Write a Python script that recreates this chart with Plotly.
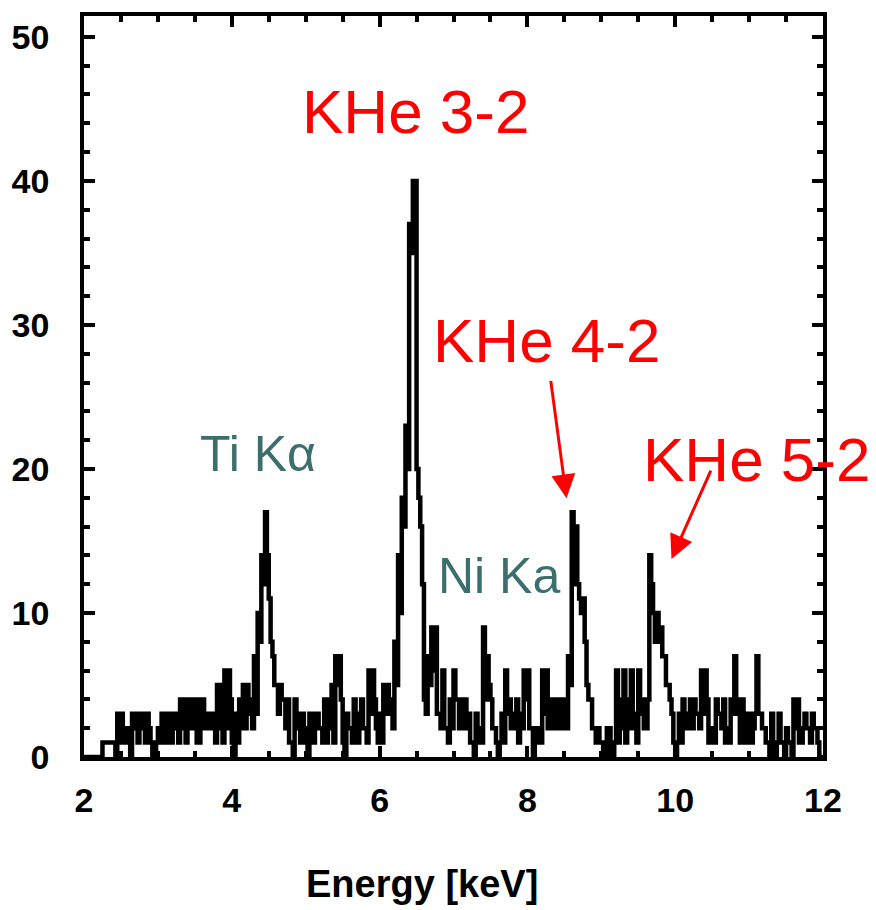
import plotly.graph_objects as go

# Spectrum: counts per 0.025 keV bin from 2.0 to 12.0 keV
bin_start = 2.0
bin_width = 0.025
counts = [
    0, 0, 0, 0, 0, 0, 0, 0, 0, 0,          # 2.00-2.25
    1, 1, 1, 1, 1, 1, 1, 0, 3, 1,          # 2.25-2.50
    3, 1, 1, 2, 2, 0, 3, 2, 3, 1,          # 2.50-2.75
    2, 3, 3, 1, 3, 2, 1, 0, 0, 1,          # 2.75-3.00
    2, 1, 3, 1, 1, 3, 3, 1, 2, 3,          # 3.00-3.25
    3, 1, 4, 2, 4, 1, 2, 4, 4, 2,          # 3.25-3.50
    4, 1, 1, 4, 4, 2, 3, 3, 2, 3,          # 3.50-3.75
    3, 1, 5, 2, 5, 1, 6, 2, 6, 4,          # 3.75-4.00
    1, 0, 3, 1, 4, 2, 5, 2, 5, 3,          # 4.00-4.25
    4, 2, 7, 3, 10, 8, 14, 12, 17, 14,     # 4.25-4.50
    11, 8, 7, 5, 5, 3, 5, 4, 4, 2,         # 4.50-4.75
    4, 1, 1, 0, 4, 2, 3, 1, 3, 1,          # 4.75-5.00
    2, 0, 3, 1, 1, 3, 3, 2, 2, 1,          # 5.00-5.25
    4, 1, 2, 4, 5, 1, 7, 5, 7, 4,          # 5.25-5.50
    1, 0, 3, 2, 2, 1, 4, 1, 1, 3,          # 5.50-5.75
    4, 2, 2, 1, 6, 3, 6, 4, 2, 1,          # 5.75-6.00
    3, 1, 5, 3, 5, 4, 3, 2, 8, 5,          # 6.00-6.25
    14, 10, 18, 16, 23, 20, 37, 35, 40, 40,  # 6.25-6.50
    20, 18, 16, 12, 4, 3, 7, 5, 9, 6,      # 6.50-6.75
    9, 3, 3, 2, 6, 2, 2, 1, 4, 2,          # 6.75-7.00
    6, 4, 4, 2, 2, 4, 4, 2, 3, 1,          # 7.00-7.25
    1, 0, 3, 1, 2, 1, 9, 4, 7, 5,          # 7.25-7.50
    4, 2, 2, 1, 0, 1, 3, 1, 6, 3,          # 7.50-7.75
    4, 2, 2, 3, 4, 1, 3, 2, 6, 4,          # 7.75-8.00
    6, 2, 2, 0, 1, 2, 2, 1, 6, 3,          # 8.00-8.25
    6, 2, 4, 2, 2, 4, 4, 2, 2, 4,          # 8.25-8.50
    4, 2, 7, 5, 17, 12, 16, 12, 11, 10,    # 8.50-8.75
    11, 8, 5, 4, 4, 2, 2, 1, 2, 1,         # 8.75-9.00
    1, 0, 0, 2, 2, 0, 0, 1, 6, 1,          # 9.00-9.25
    2, 4, 6, 1, 4, 2, 6, 3, 2, 1,          # 9.25-9.50
    6, 3, 4, 2, 2, 4, 14, 12, 10, 8,       # 9.50-9.75
    10, 8, 9, 7, 7, 5, 5, 4, 3, 1,         # 9.75-10.00
    0, 1, 3, 1, 4, 2, 2, 3, 4, 2,          # 10.00-10.25
    4, 3, 3, 2, 6, 3, 6, 4, 1, 2,          # 10.25-10.50
    2, 1, 4, 3, 3, 2, 4, 1, 2, 1,          # 10.50-10.75
    4, 3, 7, 4, 3, 1, 4, 2, 1, 3,          # 10.75-11.00
    3, 1, 2, 3, 7, 3, 3, 2, 2, 1,          # 11.00-11.25
    1, 0, 3, 1, 0, 1, 3, 1, 1, 0,          # 11.25-11.50
    2, 1, 1, 0, 4, 2, 4, 1, 1, 2,          # 11.50-11.75
    3, 2, 2, 1, 3, 2, 2, 1, 0, 0,          # 11.75-12.00
]
edges = [round(bin_start + i * bin_width, 4) for i in range(len(counts) + 1)]
step_y = counts + [counts[-1]]

x_ticks = [2, 4, 6, 8, 10, 12]
y_ticks = [0, 10, 20, 30, 40, 50]

# Labels: (text, energy, counts, colour)
line_labels = [
    ("KHe 3-2", 6.48, 44.8, "#ff0000"),
    ("KHe 4-2", 8.26, 28.9, "#ff0000"),
    ("KHe 5-2", 11.10, 20.65, "#ff0000"),
]
element_labels = [
    ("Ti K\u03b1", 4.36, 21.06, "#3d6e6e"),
    ("Ni Ka", 7.61, 12.57, "#3d6e6e"),
]
# Arrows: tip (energy, counts), tail offset in pixels
arrows = [
    (8.53, 17.96, -16, -119),
    (9.95, 13.74, 40, -90),
]

fig = go.Figure()
fig.add_trace(go.Scatter(
    x=edges, y=step_y, mode="lines", line=dict(color="black", width=4.5, shape="hv"),
    showlegend=False, hoverinfo="skip", cliponaxis=True,
))

tick_font = dict(family="Liberation Sans", size=34, color="black", weight="bold")

fig.update_xaxes(
    range=[2, 12], tickvals=x_ticks, ticks="inside", ticklen=11, tickwidth=3.5, tickcolor="black",
    showline=True, linewidth=3.5, linecolor="black", mirror="ticks", showgrid=False, zeroline=False,
    tickfont=tick_font, ticklabelstandoff=10,
    minor=dict(ticks="inside", ticklen=6, tickwidth=3.5, tickcolor="black", dtick=0.5, showgrid=False),
)
fig.update_yaxes(
    range=[0, 51.45], tickvals=y_ticks, ticks="inside", ticklen=11, tickwidth=3.5, tickcolor="black",
    showline=True, linewidth=3.5, linecolor="black", mirror="ticks", showgrid=False, zeroline=False,
    tickfont=tick_font, ticklabelstandoff=24,
    minor=dict(ticks="inside", ticklen=6, tickwidth=3.5, tickcolor="black", dtick=2, showgrid=False),
)

for text, xe, yc, col in line_labels:
    fig.add_annotation(x=xe, y=yc, xref="x", yref="y", text=text, showarrow=False,
                       font=dict(family="Liberation Sans", size=62, color=col))
for text, xe, yc, col in element_labels:
    fig.add_annotation(x=xe, y=yc, xref="x", yref="y", text=text, showarrow=False,
                       font=dict(family="Liberation Sans", size=50, color=col))
for xe, yc, axp, ayp in arrows:
    fig.add_annotation(x=xe, y=yc, xref="x", yref="y", ax=axp, ay=ayp, text="",
                       showarrow=True, arrowhead=2, arrowsize=1.6, arrowwidth=3, arrowcolor="#ff0000")

fig.add_annotation(x=0.458, y=-0.172, xref="paper", yref="paper", text="Energy [keV]",
                   showarrow=False, yanchor="middle",
                   font=dict(family="Liberation Sans", size=38, color="black", weight="bold"))

fig.update_layout(
    width=876, height=910, margin=dict(l=81, r=53, t=12, b=153),
    paper_bgcolor="white", plot_bgcolor="white",
)
fig.write_html("out.html")
